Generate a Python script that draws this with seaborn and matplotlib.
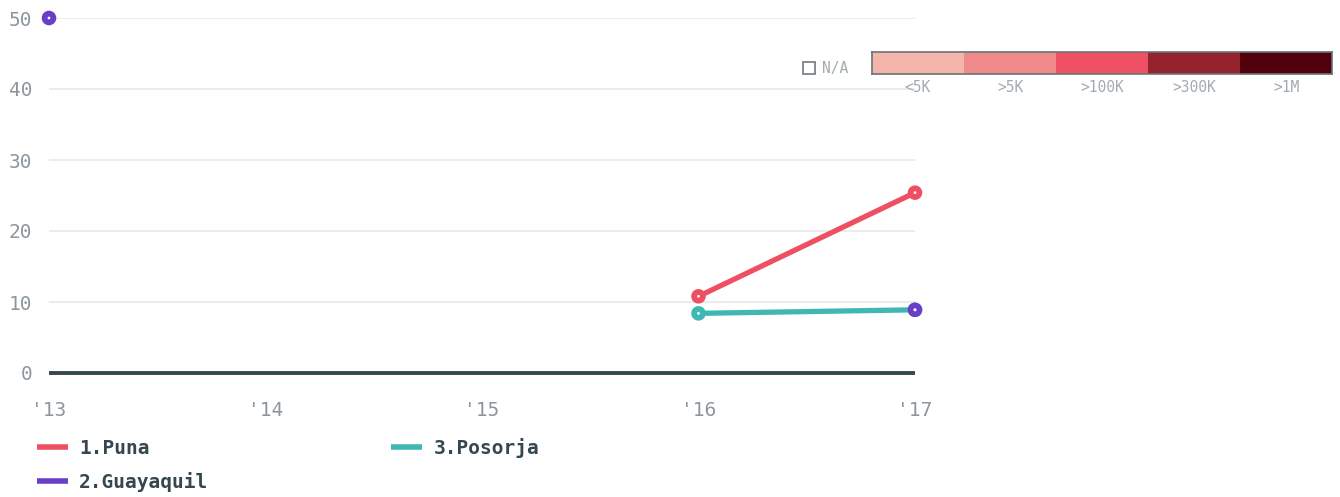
import numpy as np
import pandas as pd
import matplotlib
matplotlib.use("Agg")
import matplotlib.pyplot as plt
from matplotlib.lines import Line2D
import seaborn as sns

# ---- data ----
years = [2013, 2014, 2015, 2016, 2017]
year_labels = ["'13", "'14", "'15", "'16", "'17"]
puna = [np.nan, np.nan, np.nan, 10.8, 25.4]
guayaquil = [50.0, np.nan, np.nan, np.nan, 8.9]
posorja = [np.nan, np.nan, np.nan, 8.4, 8.9]
series_names = ["1.Puna", "2.Guayaquil", "3.Posorja"]
series_colors = ["#ef4f63", "#6a3fc8", "#3fb8b4"]
y_ticks = [0, 10, 20, 30, 40, 50]
scale_labels = ["<5K", ">5K", ">100K", ">300K", ">1M"]
scale_colors = ["#f4b6ac", "#f08a8a", "#ef5064", "#96212f", "#52000c"]

sns.set_theme(style="white")
plt.rcParams["font.family"] = ["DejaVu Sans Mono"]

rows = []
for name, vals in zip(series_names, [puna, guayaquil, posorja]):
    seg = 0
    prev_nan = True
    for y, v in zip(years, vals):
        if np.isnan(v):
            prev_nan = True
            continue
        if prev_nan:
            seg += 1
        prev_nan = False
        rows.append({"year": y, "value": v, "series": name, "seg": f"{name}-{seg}"})
df = pd.DataFrame(rows)
palette = dict(zip(series_names, series_colors))

fig = plt.figure(figsize=(13.4, 4.97), dpi=100)
ax = fig.add_axes([49 / 1340, (497 - 373) / 497, (915 - 49) / 1340, (373 - 18) / 497])

# grid
for t in y_ticks[1:]:
    ax.axhline(t, color="#e9ebec", lw=1.3, zorder=0)

line_order = ["1.Puna", "3.Posorja", "2.Guayaquil"]
for name in line_order:
    sub = df[df.series == name]
    sns.lineplot(data=sub, x="year", y="value", units="seg", estimator=None,
                 color=palette[name], lw=3.8, ax=ax, legend=False, zorder=3,
                 solid_capstyle="round")
for name in line_order:
    sub = df[df.series == name]
    sns.scatterplot(data=sub, x="year", y="value", color=palette[name], s=110,
                    edgecolor="none", ax=ax, legend=False, zorder=5, clip_on=False)
    sns.scatterplot(data=sub, x="year", y="value", color="white", s=4,
                    edgecolor="none", ax=ax, legend=False, zorder=6, clip_on=False)

ax.axhline(0, color="#37474f", lw=2.8, zorder=4, clip_on=False, solid_capstyle="butt")

ax.set_xlim(2013, 2017)
ax.set_ylim(0, 50)
ax.set_xticks(years)
ax.set_xticklabels(year_labels)
ax.set_yticks(y_ticks)
ax.set_xlabel("")
ax.set_ylabel("")
for s in ax.spines.values():
    s.set_visible(False)
ax.tick_params(axis="y", length=0, pad=12, labelsize=14, labelcolor="#8c969c")
ax.tick_params(axis="x", length=0, pad=20, labelsize=14, labelcolor="#8c969c")

# legend
handles = [Line2D([0], [0], color=c, lw=4, solid_capstyle="butt") for c in series_colors]
leg = fig.legend(handles, series_names, ncol=2, loc="upper left",
                 bbox_to_anchor=(19 / 1340, 1 - 420 / 497), frameon=False,
                 handlelength=1.6, handletextpad=0.6, columnspacing=9.4,
                 labelspacing=0.75, prop={"weight": "bold", "size": 14})
for t in leg.get_texts():
    t.set_color("#37474f")

# colour scale legend
cax = fig.add_axes([872 / 1340, (497 - 74) / 497, (1332 - 872) / 1340, 22 / 497])
cax.bar(range(len(scale_colors)), [1] * len(scale_colors), width=1.0,
        color=scale_colors, align="edge", edgecolor="none", linewidth=0)
cax.set_xlim(0, len(scale_colors))
cax.set_ylim(0, 1)
cax.set_yticks([])
cax.set_xticks(np.arange(len(scale_labels)) + 0.5)
cax.set_xticklabels(scale_labels)
cax.tick_params(axis="x", length=0, pad=4, labelsize=10.5, labelcolor="#a3abb0")
for s in cax.spines.values():
    s.set_color("#6b7378")
    s.set_linewidth(1.2)

fig.patches.append(plt.Rectangle((803 / 1340, (497 - 74) / 497), 12 / 1340, 12 / 497,
                                 transform=fig.transFigure, facecolor="white",
                                 edgecolor="#7b848a", lw=1.3))
fig.text(822 / 1340, (497 - 68) / 497, "N/A", fontsize=10.5, color="#a3abb0",
         va="center", ha="left")

fig.savefig("out.png", dpi=100)
